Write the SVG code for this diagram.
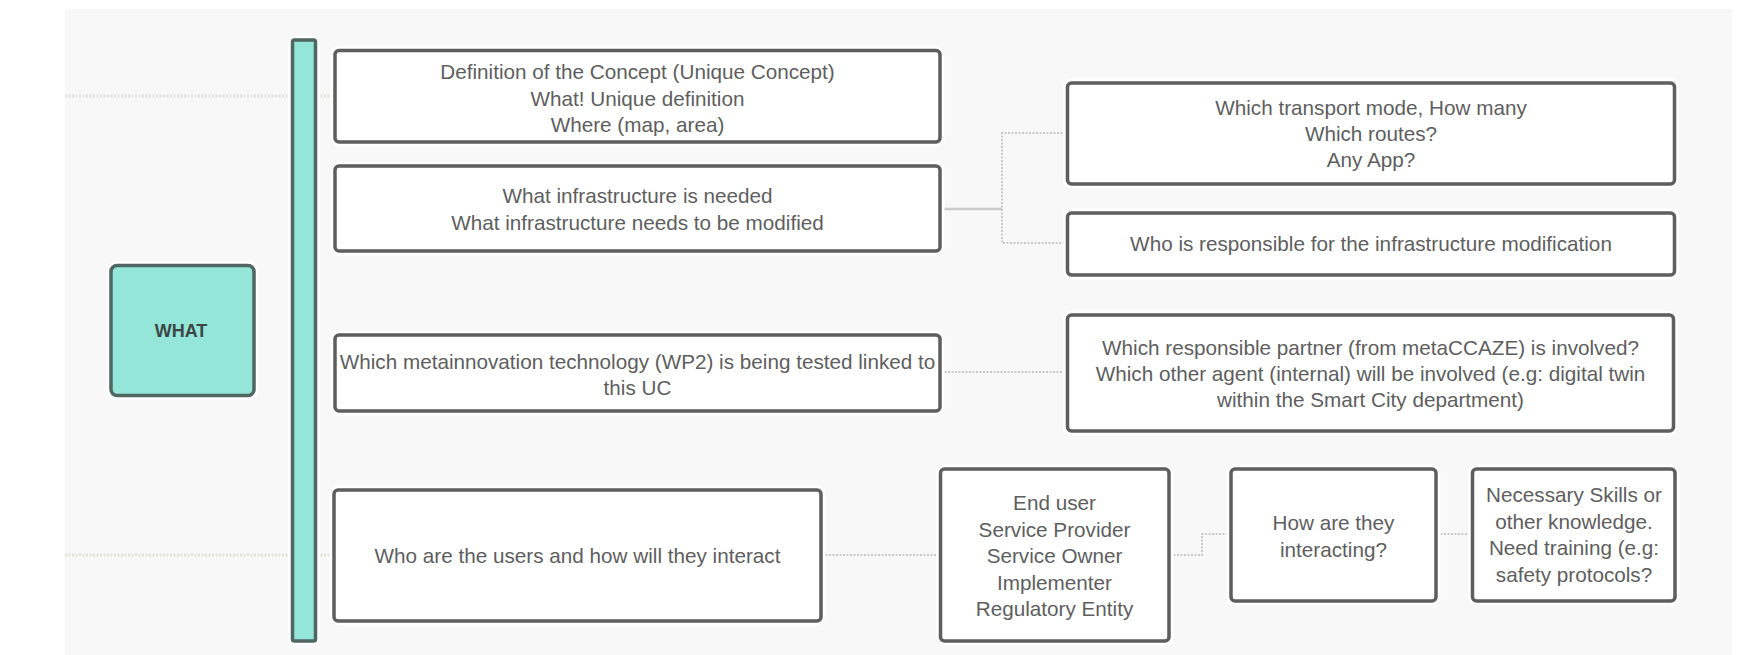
<svg xmlns="http://www.w3.org/2000/svg" width="1764" height="655" viewBox="0 0 1764 655">
  <style>
    .bg { fill: #f8f8f8; }
    .glow { fill: none; stroke: #ffffff; stroke-width: 9; }
    .box { fill: #ffffff; stroke: #5e5e5e; stroke-width: 3.5; }
    .teal { fill: #93e6d8; stroke: #4f6662; stroke-width: 3.5; }
    .t { font-family: "Liberation Sans", Arial, sans-serif; font-size: 20.7px; fill: #5e5e5e; text-anchor: middle; }
    .tb { font-family: "Liberation Sans", Arial, sans-serif; font-size: 18px; font-weight: bold; fill: #3c4846; text-anchor: middle; }
    .c { fill: none; stroke: #c9c9c9; stroke-width: 2; stroke-dasharray: 2 1.5; }
    .cs { fill: none; stroke: #c9c9c9; stroke-width: 2.5; }
    .cl { fill: none; stroke: #e2e2d6; stroke-width: 3; stroke-dasharray: 2 1.5; }
  </style>
  <rect x="0" y="0" width="1764" height="655" fill="#ffffff"/>
  <rect class="bg" x="65" y="9" width="1667" height="646"/>

  <g id="connectors">
    <path class="cl" d="M65 96 H333"/>
    <path class="cl" d="M65 555 H333"/>
    <path class="cs" d="M941 209 H1002"/>
    <path class="c" d="M1066 133 H1002 V243 H1066"/>
    <path class="c" d="M941 372 H1067"/>
    <path class="c" d="M822 555 H940"/>
    <path class="c" d="M1170 555 H1202 V534 H1230"/>
    <path class="c" d="M1437 534 H1471"/>
  </g>

  <g id="bar">
    <rect class="glow" x="292.5" y="40" width="23" height="601" rx="2"/>
    <rect class="teal" x="292.5" y="40" width="23" height="601" rx="2"/>
  </g>

  <g id="what">
    <rect class="glow" x="111" y="265.5" width="143" height="130" rx="6"/>
    <rect class="teal" x="111" y="265.5" width="143" height="130" rx="6"/>
    <text class="tb" x="181" y="337">WHAT</text>
  </g>

  <g id="concept">
    <rect class="glow" x="335" y="50.5" width="605" height="91.5" rx="4"/>
    <rect class="box" x="335" y="50.5" width="605" height="91.5" rx="4"/>
    <text class="t" x="637.5" y="79">Definition of the Concept (Unique Concept)</text>
    <text class="t" x="637.5" y="105.5">What! Unique definition</text>
    <text class="t" x="637.5" y="132">Where (map, area)</text>
  </g>

  <g id="infrastructure">
    <rect class="glow" x="335" y="166" width="605" height="85" rx="4"/>
    <rect class="box" x="335" y="166" width="605" height="85" rx="4"/>
    <text class="t" x="637.5" y="203">What infrastructure is needed</text>
    <text class="t" x="637.5" y="229.5">What infrastructure needs to be modified</text>
  </g>

  <g id="transport">
    <rect class="glow" x="1067.5" y="83" width="607" height="101" rx="4"/>
    <rect class="box" x="1067.5" y="83" width="607" height="101" rx="4"/>
    <text class="t" x="1371" y="115">Which transport mode, How many</text>
    <text class="t" x="1371" y="141">Which routes?</text>
    <text class="t" x="1371" y="167">Any App?</text>
  </g>

  <g id="responsible">
    <rect class="glow" x="1067.5" y="213" width="607" height="62" rx="4"/>
    <rect class="box" x="1067.5" y="213" width="607" height="62" rx="4"/>
    <text class="t" x="1371" y="251">Who is responsible for the infrastructure modification</text>
  </g>

  <g id="technology">
    <rect class="glow" x="335" y="335" width="605" height="76" rx="4"/>
    <rect class="box" x="335" y="335" width="605" height="76" rx="4"/>
    <text class="t" x="637.5" y="369">Which metainnovation technology (WP2) is being tested linked to</text>
    <text class="t" x="637.5" y="395">this UC</text>
  </g>

  <g id="partner">
    <rect class="glow" x="1067.5" y="315" width="606" height="116" rx="4"/>
    <rect class="box" x="1067.5" y="315" width="606" height="116" rx="4"/>
    <text class="t" x="1370.5" y="355">Which responsible partner (from metaCCAZE) is involved?</text>
    <text class="t" x="1370.5" y="381">Which other agent (internal) will be involved (e.g: digital twin</text>
    <text class="t" x="1370.5" y="407">within the Smart City department)</text>
  </g>

  <g id="users">
    <rect class="glow" x="334" y="490" width="487" height="131" rx="4"/>
    <rect class="box" x="334" y="490" width="487" height="131" rx="4"/>
    <text class="t" x="577.5" y="563">Who are the users and how will they interact</text>
  </g>

  <g id="roles">
    <rect class="glow" x="940.5" y="469" width="228.5" height="172" rx="4"/>
    <rect class="box" x="940.5" y="469" width="228.5" height="172" rx="4"/>
    <text class="t" x="1054.5" y="510">End user</text>
    <text class="t" x="1054.5" y="536.5">Service Provider</text>
    <text class="t" x="1054.5" y="563">Service Owner</text>
    <text class="t" x="1054.5" y="589.5">Implementer</text>
    <text class="t" x="1054.5" y="616">Regulatory Entity</text>
  </g>

  <g id="interacting">
    <rect class="glow" x="1231" y="469" width="205" height="132" rx="4"/>
    <rect class="box" x="1231" y="469" width="205" height="132" rx="4"/>
    <text class="t" x="1333.5" y="530">How are they</text>
    <text class="t" x="1333.5" y="557">interacting?</text>
  </g>

  <g id="skills">
    <rect class="glow" x="1472.5" y="469" width="202.5" height="132" rx="4"/>
    <rect class="box" x="1472.5" y="469" width="202.5" height="132" rx="4"/>
    <text class="t" x="1574" y="502">Necessary Skills or</text>
    <text class="t" x="1574" y="528.5">other knowledge.</text>
    <text class="t" x="1574" y="555">Need training (e.g:</text>
    <text class="t" x="1574" y="581.5">safety protocols?</text>
  </g>
</svg>
